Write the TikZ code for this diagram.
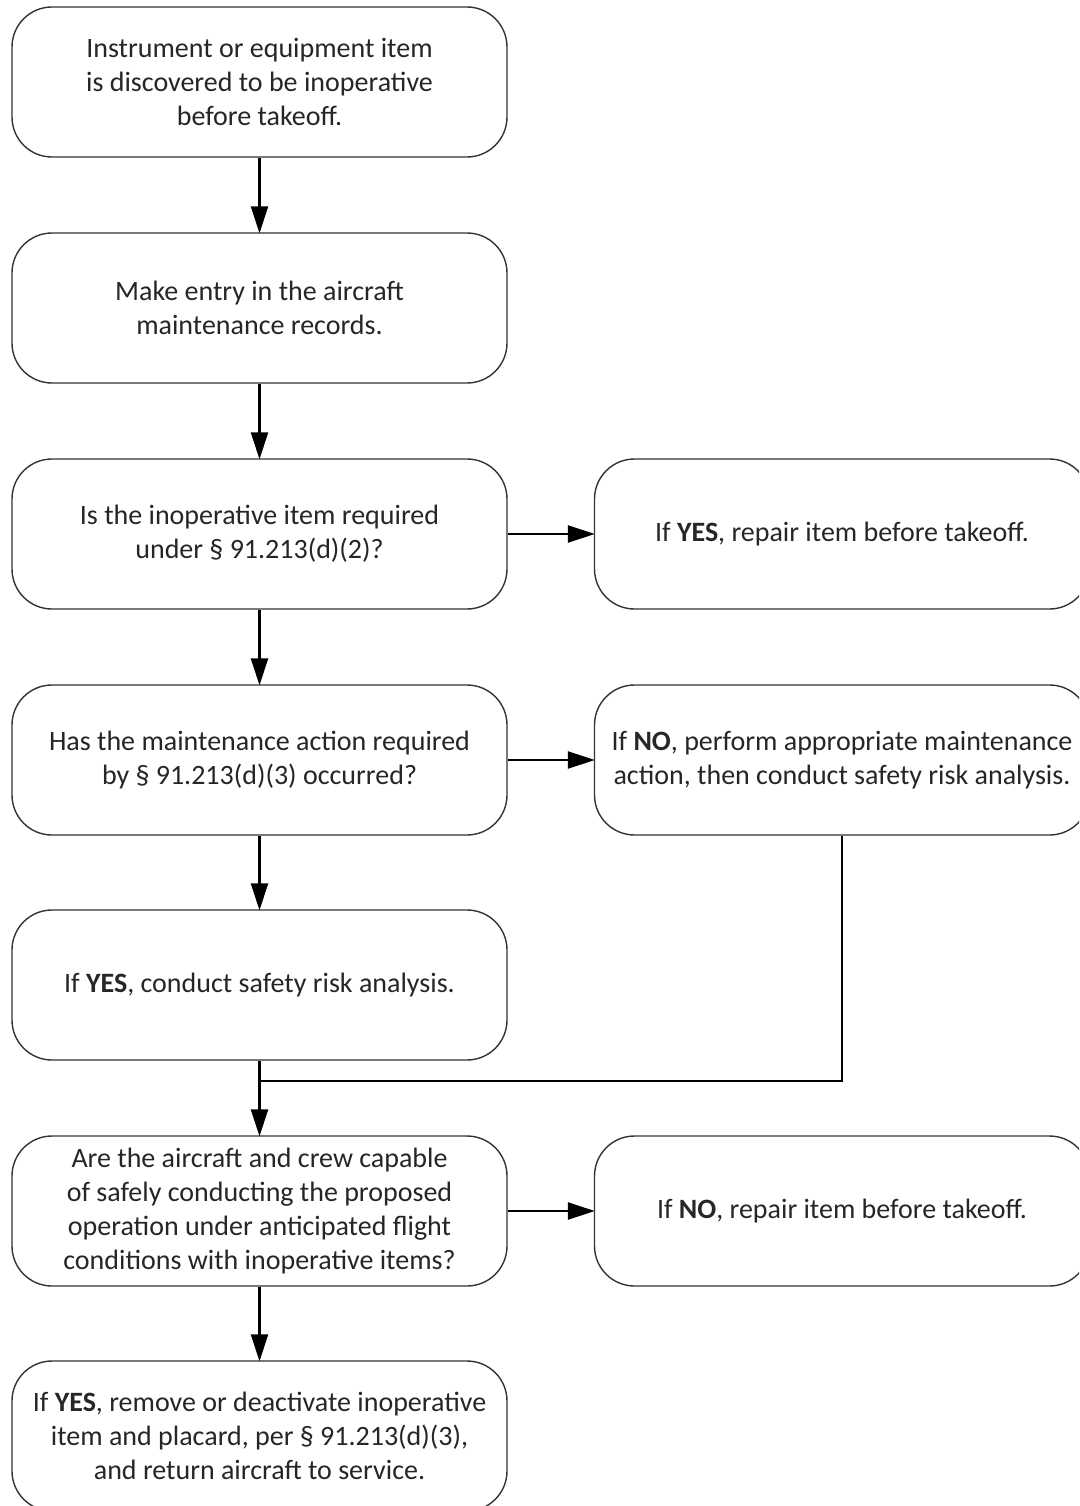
\documentclass[tikz,border=0pt]{standalone}
\usepackage{fontspec}
\setmainfont{Carlito}
\usetikzlibrary{arrows.meta}
\tikzset{
  box/.style={draw=black!80, line width=1.4pt, rounded corners=40pt, minimum width=495pt, minimum height=150pt, inner sep=0pt, align=center, text=black!85, font=\fontsize{28}{34}\selectfont},
  conn/.style={draw=black, line width=2.4pt},
  arr/.style={conn, -{Triangle[length=27pt,width=17pt]}, shorten >=-1pt}
}
\begin{document}
\begin{tikzpicture}[x=1pt,y=-1pt]
\useasboundingbox (0,0) rectangle (1079,1506);
\clip (0,0) rectangle (1079,1506);
\fill[white] (0,0) rectangle (1079,1506);
\node[box] (b1) at (259.5,82) {Instrument or equipment item\\is discovered to be inoperative\\before takeoff.};
\node[box] (b2) at (259.5,308) {Make entry in the aircraft\\maintenance records.};
\node[box] (b3) at (259.5,534) {Is the inoperative item required\\under § 91.213(d)(2)?};
\node[box] (b4) at (259.5,760) {Has the maintenance action required\\by § 91.213(d)(3) occurred?};
\node[box] (b5) at (259.5,985) {If \textbf{YES}, conduct safety risk analysis.};
\node[box] (b6) at (259.5,1211) {Are the aircraft and crew capable\\of safely conducting the proposed\\operation under anticipated flight\\conditions with inoperative items?};
\node[box] (b7) at (259.5,1436) {If \textbf{YES}, remove or deactivate inoperative\\item and placard, per § 91.213(d)(3),\\and return aircraft to service.};
\node[box] (r3) at (842,534) {If \textbf{YES}, repair item before takeoff.};
\node[box] (r4) at (842,760) {If \textbf{NO}, perform appropriate maintenance\\action, then conduct safety risk analysis.};
\node[box] (r6) at (842,1211) {If \textbf{NO}, repair item before takeoff.};
\coordinate (j) at (259.5,1081);
\draw[arr] (b1) -- (b2);
\draw[arr] (b2) -- (b3);
\draw[arr] (b3) -- (b4);
\draw[arr] (b4) -- (b5);
\draw[arr] (b3) -- (r3);
\draw[arr] (b4) -- (r4);
\draw[arr] (b6) -- (r6);
\draw[arr] (b6) -- (b7);
\draw[conn] (r4.south) |- (j);
\draw[conn] (b5.south) -- (j);
\draw[arr] (j) -- (b6.north);
\end{tikzpicture}
\end{document}
